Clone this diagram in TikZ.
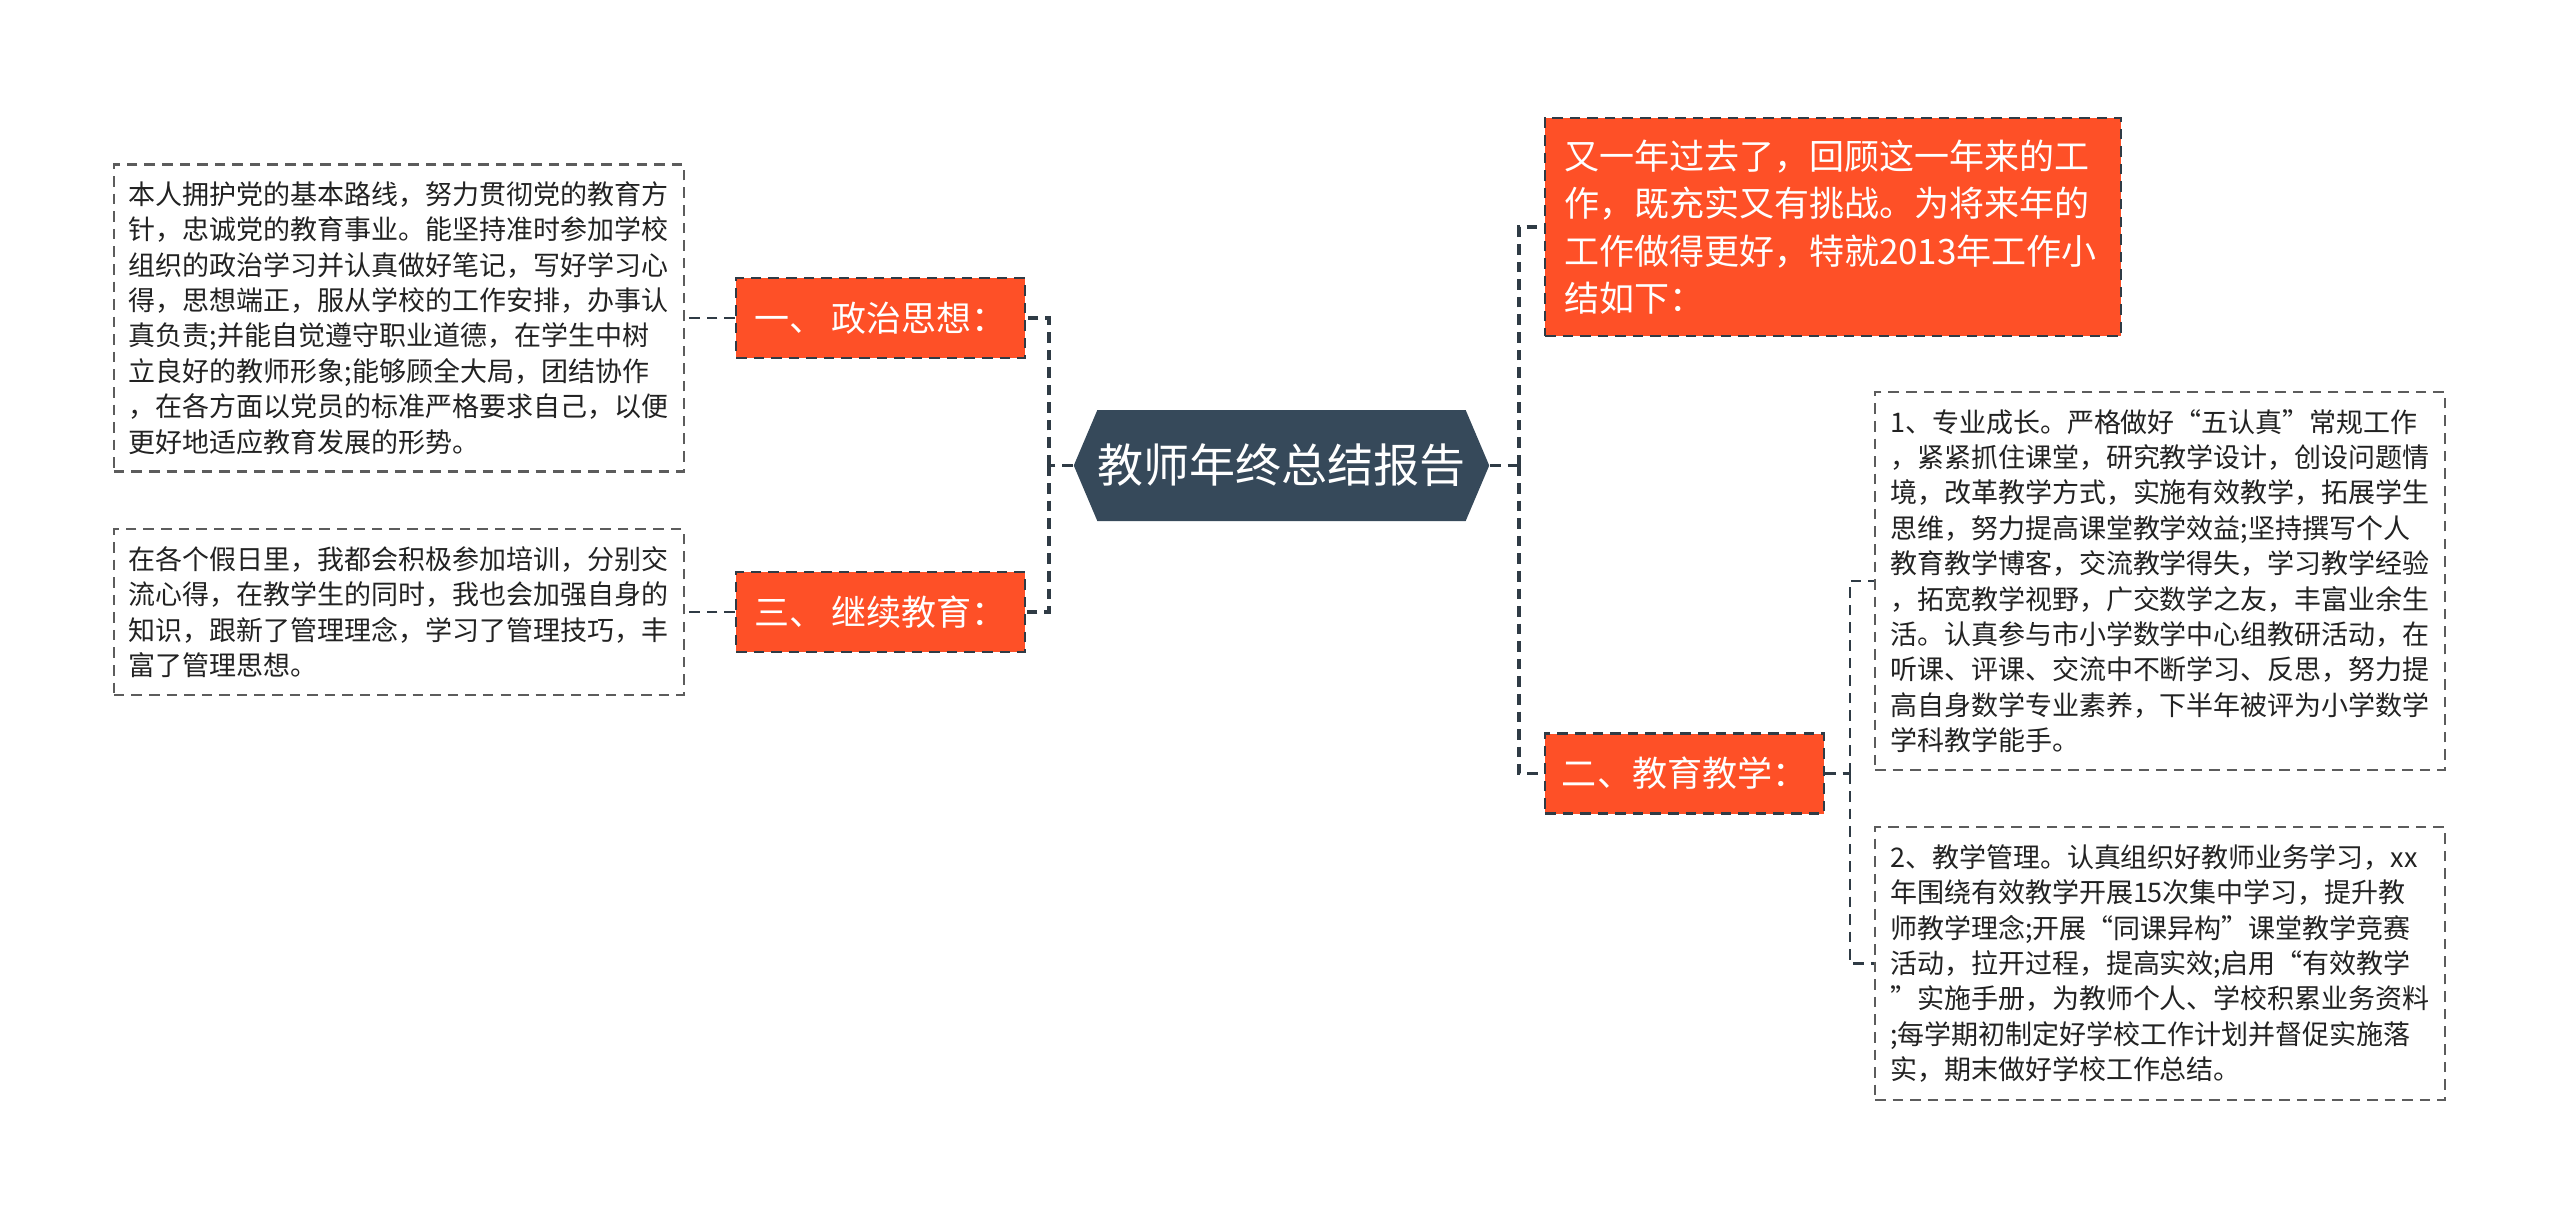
\documentclass[tikz,border=0pt]{standalone}
\usepackage{fontspec}
\usepackage{xcolor}
\usepackage{tikz}
\usetikzlibrary{positioning,shapes.symbols}
\newfontfamily\cjk{Noto Sans CJK SC}
\definecolor{hubslate}{HTML}{36495A}
\definecolor{branchred}{HTML}{FE5027}
\definecolor{linedark}{HTML}{2F3B45}
\definecolor{boxline}{HTML}{5C5C5C}
\definecolor{bodytext}{HTML}{222222}

\begin{document}
\begin{tikzpicture}[
  hub/.style    = {signal, signal to=west and east, signal pointer angle=134,
                   fill=hubslate, text=white, minimum width=4.15cm,
                   minimum height=1.11cm, inner xsep=0cm,
                   font=\cjk\fontsize{13.1pt}{15pt}\selectfont},
  branch/.style = {rectangle, draw=linedark, dash pattern=on 3pt off 2pt,
                   line width=0.6pt, fill=branchred, text=white,
                   minimum height=0.8cm, inner xsep=0.17cm,
                   font=\cjk\fontsize{9.96pt}{12pt}\selectfont},
  intro/.style  = {branch, text width=5.38cm, align=left, inner xsep=0.19cm,
                   inner ysep=0.22cm,
                   font=\cjk\fontsize{9.96pt}{13.5pt}\selectfont},
  leaf/.style   = {rectangle, draw=boxline, dash pattern=on 3pt off 2pt,
                   line width=0.6pt, fill=white, text=bodytext,
                   text width=5.4cm, align=left, inner xsep=0.15cm,
                   inner ysep=0.17cm,
                   font=\cjk\fontsize{7.68pt}{10.07pt}\selectfont},
  trunk/.style  = {draw=linedark, line width=0.9pt, dash pattern=on 3pt off 2pt},
  link/.style   = {draw=linedark, line width=0.6pt, dash pattern=on 3pt off 2pt}
]
\fill[white] (0,0) rectangle (25.6,-12.17);
\useasboundingbox (0,0) rectangle (25.6,-12.17);

%%% ---- CENTRE ----
\node[hub] (hub) at (12.815,-4.655) {教师年终总结报告};

%%% ---- LEFT SIDE ----
\node[branch,minimum width=2.89cm] (pol) at (8.805,-3.18) {一、 政治思想：};
\node[branch,minimum width=2.89cm] (con) at (8.805,-6.12) {三、 继续教育：};

\node[leaf,left=0.5cm of pol] (polt)
  {本人拥护党的基本路线，努力贯彻党的教育方\\
   针，忠诚党的教育事业。能坚持准时参加学校\\
   组织的政治学习并认真做好笔记，写好学习心\\
   得，思想端正，服从学校的工作安排，办事认\\
   真负责;并能自觉遵守职业道德，在学生中树\\
   立良好的教师形象;能够顾全大局，团结协作\\
   ，在各方面以党员的标准严格要求自己，以便\\
   更好地适应教育发展的形势。};
\node[leaf,left=0.5cm of con] (cont)
  {在各个假日里，我都会积极参加培训，分别交\\
   流心得，在教学生的同时，我也会加强自身的\\
   知识，跟新了管理理念，学习了管理技巧，丰\\
   富了管理思想。};

\coordinate[left=0.24cm of hub.west] (lj);
\draw[trunk] (hub.west) -- (lj);
\draw[trunk] (lj) |- (pol.east);
\draw[trunk] (lj) |- (con.east);
\draw[link] (pol.west) -- (polt.east);
\draw[link] (con.west) -- (cont.east);

%%% ---- RIGHT SIDE ----
\node[intro] (intro) at (18.33,-2.27)
  {又一年过去了，回顾这一年来的工\\
   作，既充实又有挑战。为将来年的\\
   工作做得更好，特就2013年工作小\\
   结如下：};
\node[branch,minimum width=2.79cm] (edu) at (16.845,-7.735) {二、教育教学：};

\node[leaf,anchor=west] (grow) at (18.74,-5.81)
  {1、专业成长。严格做好“五认真”常规工作\\
   ，紧紧抓住课堂，研究教学设计，创设问题情\\
   境，改革教学方式，实施有效教学，拓展学生\\
   思维，努力提高课堂教学效益;坚持撰写个人\\
   教育教学博客，交流教学得失，学习教学经验\\
   ，拓宽教学视野，广交数学之友，丰富业余生\\
   活。认真参与市小学数学中心组教研活动，在\\
   听课、评课、交流中不断学习、反思，努力提\\
   高自身数学专业素养，下半年被评为小学数学\\
   学科教学能手。};
\node[leaf,anchor=west] (mgmt) at (18.74,-9.635)
  {2、教学管理。认真组织好教师业务学习，xx\\
   年围绕有效教学开展15次集中学习，提升教\\
   师教学理念;开展“同课异构”课堂教学竞赛\\
   活动，拉开过程，提高实效;启用“有效教学\\
   ”实施手册，为教师个人、学校积累业务资料\\
   ;每学期初制定好学校工作计划并督促实施落\\
   实，期末做好学校工作总结。};

\coordinate[right=0.29cm of hub.east] (rj);
\draw[trunk] (hub.east) -- (rj);
\draw[trunk] (rj) |- (intro.west);
\draw[trunk] (rj) |- (edu.west);

\coordinate[right=0.25cm of edu.east] (ej);
\draw[link] (edu.east) -- (ej);
\draw[link] (ej) |- (grow.west);
\draw[link] (ej) |- (mgmt.west);
\end{tikzpicture}
\end{document}
